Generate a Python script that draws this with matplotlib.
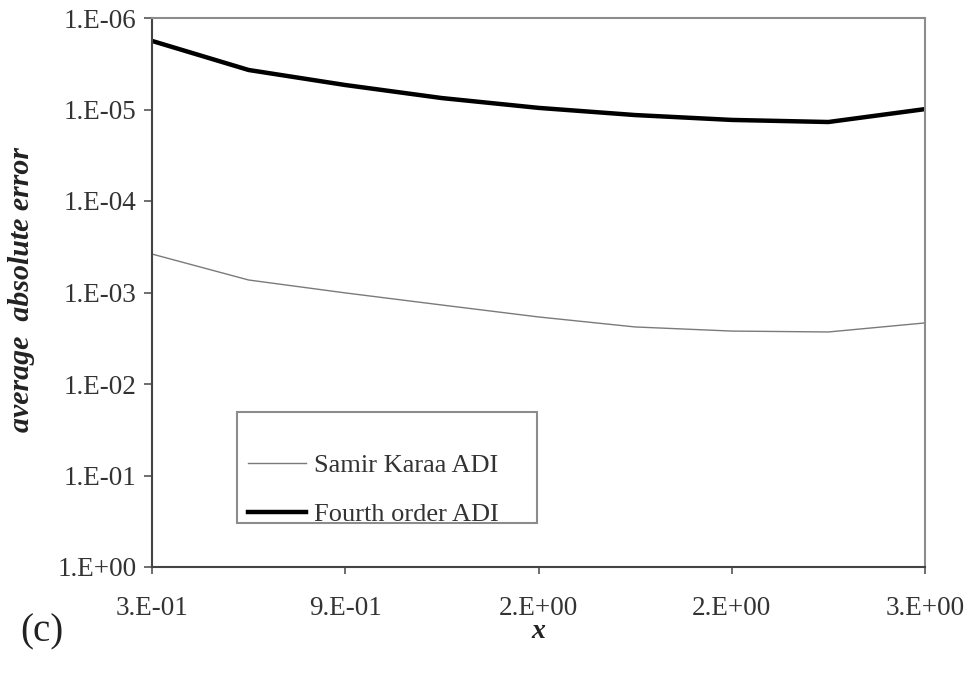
import numpy as np
import matplotlib
matplotlib.use("Agg")
from matplotlib import pyplot as plt
import matplotlib.patches as patches

# data
x_vals = [0.3, 0.6, 0.9, 1.2, 1.5, 1.8, 2.1, 2.4, 2.7]
samir_karaa = [3.8e-4, 7.3e-4, 1.01e-3, 1.37e-3, 1.85e-3, 2.38e-3, 2.64e-3, 2.70e-3, 2.15e-3]
fourth_order = [1.78e-6, 3.7e-6, 5.4e-6, 7.5e-6, 9.6e-6, 1.15e-5, 1.30e-5, 1.37e-5, 9.9e-6]

x_ticks = [0.3, 0.9, 1.5, 2.1, 2.7]
x_tick_labels = ["3.E-01", "9.E-01", "2.E+00", "2.E+00", "3.E+00"]
y_ticks = [1e0, 1e-1, 1e-2, 1e-3, 1e-4, 1e-5, 1e-6]
y_tick_labels = ["1.E+00", "1.E-01", "1.E-02", "1.E-03", "1.E-04", "1.E-05", "1.E-06"]

plt.rcParams['font.family'] = ['Liberation Serif', 'DejaVu Serif']

W, H = 969, 674
dpi = 100
fig = plt.figure(figsize=(W / dpi, H / dpi), dpi=dpi)
ax = fig.add_axes([152 / W, 1 - 567 / H, (925 - 152) / W, (567 - 18) / H])

ax.plot(x_vals, samir_karaa, color="#7a7a7a", lw=1.0, label="Samir Karaa ADI")
ax.plot(x_vals, fourth_order, color="black", lw=3.2, label="Fourth order ADI")

ax.set_yscale("log")
ax.set_ylim(1e0, 1e-6)
ax.set_xlim(0.3, 2.7)
ax.set_yticks(y_ticks)
ax.set_yticklabels(y_tick_labels)
ax.yaxis.set_minor_locator(matplotlib.ticker.NullLocator())
ax.set_xticks(x_ticks)
ax.set_xticklabels(x_tick_labels)

ax.tick_params(axis="y", direction="out", length=6, width=1.2, color="#555555",
               labelsize=19.5, pad=5, labelcolor="#333333")
ax.tick_params(axis="x", direction="out", length=5, width=1.2, color="#555555",
               labelsize=19.5, pad=16, labelcolor="#333333")

for side in ["top", "right"]:
    ax.spines[side].set_color("#8c8c8c")
    ax.spines[side].set_linewidth(1.5)
for side in ["left", "bottom"]:
    ax.spines[side].set_color("#444444")
    ax.spines[side].set_linewidth(1.5)

fig.text(22 / W, 1 - 290 / H, "average  absolute error", rotation=90, ha="center", va="center",
         fontsize=21.5, fontweight="bold", fontstyle="italic", color="#222222")
fig.text(538 / W, 1 - 632 / H, "x", ha="center", va="center",
         fontsize=20, fontweight="bold", fontstyle="italic", color="#222222")
fig.text(42 / W, 1 - 632 / H, "(c)", ha="center", va="center", fontsize=28, color="#222222")

# legend box
box = patches.Rectangle((237 / W, 1 - 523 / H), 300 / W, 111 / H, transform=fig.transFigure,
                        facecolor="white", edgecolor="#8c8c8c", lw=1.5, zorder=3)
fig.patches.append(box)
leg = fig.legend(loc="center left", bbox_to_anchor=(248 / W, 1 - 490 / H),
                 frameon=False, fontsize=19, borderpad=0, borderaxespad=0,
                 handlelength=2.2, handletextpad=0.3, labelspacing=0.95)
leg.set_zorder(4)
for t in leg.get_texts():
    t.set_color("#333333")

plt.savefig("out.png", dpi=dpi)
plt.close()
